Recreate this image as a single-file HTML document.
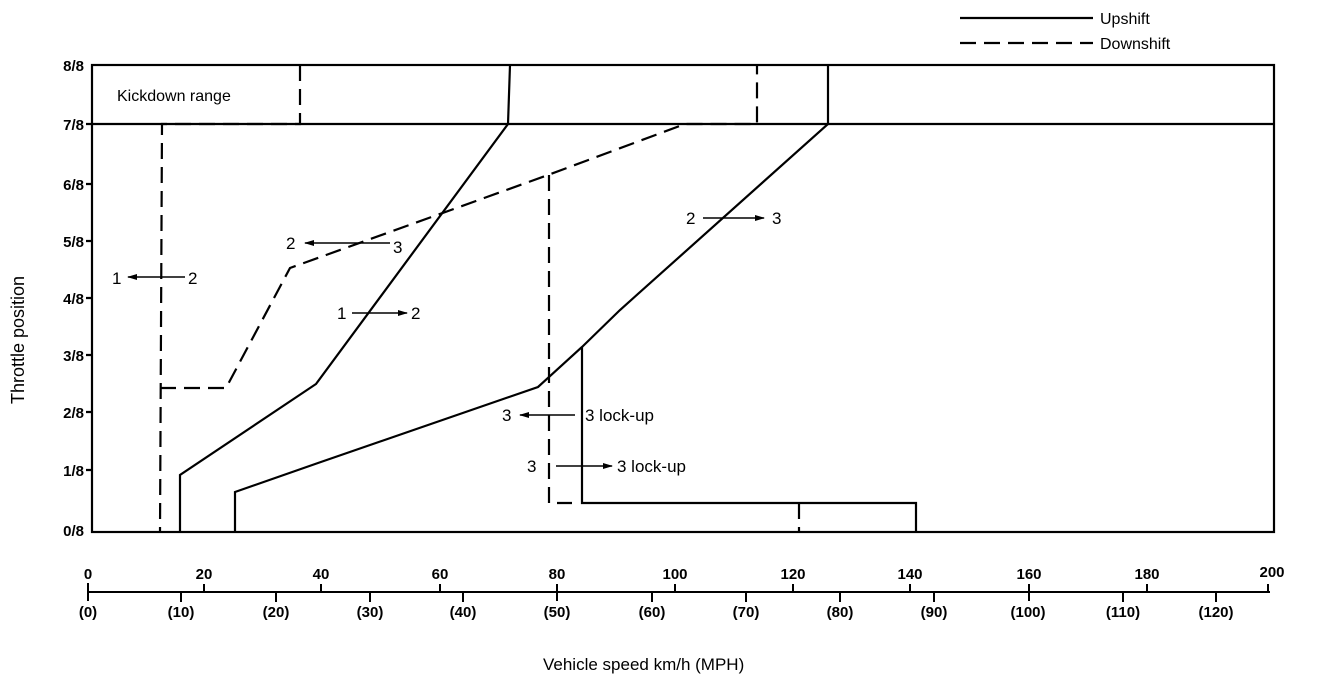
<!DOCTYPE html>
<html><head><meta charset="utf-8"><style>
html,body{margin:0;padding:0;background:#fff;}
svg{display:block;font-family:"Liberation Sans",sans-serif;}
</style></head><body>
<svg width="1328" height="684" viewBox="0 0 1328 684">
<defs><marker id="ah" markerWidth="10" markerHeight="8" refX="9" refY="4" orient="auto" markerUnits="userSpaceOnUse"><path d="M0,1 L10,4 L0,7 z" fill="#000"/></marker></defs>
<g stroke="#000" fill="none" stroke-width="2.2">
<rect x="92" y="65" width="1182" height="467"/>
<line x1="92" y1="124" x2="1274" y2="124"/>
<!-- y ticks -->
<path d="M86 124H92M86 184H92M86 241H92M86 298H92M86 355H92M86 412H92M86 470H92"/>
<!-- solid 1->2 -->
<polyline points="180,532 180,475 316,384 508,124 510,65"/>
<!-- solid 2->3 -->
<polyline points="235,532 235,492 318,463 538,387 582,347 620,310 828,124 828,65"/>
<polyline points="582,347 582,503 916,503 916,532"/>
</g>
<g stroke="#000" fill="none" stroke-width="2.2" stroke-dasharray="16,8">
<polyline points="300,65 300,124 162,124 160,532"/>
<polyline points="160,388 226,388 290,268 548,175 685,124 757,124 757,65"/>
<polyline points="549,175 549,503 572,503"/>
<line x1="799" y1="503" x2="799" y2="532"/>
<line x1="960" y1="43" x2="1093" y2="43"/>
</g>
<line x1="960" y1="18" x2="1093" y2="18" stroke="#000" stroke-width="2.2"/>
<g font-size="16" fill="#000">
<text x="1100" y="24">Upshift</text>
<text x="1100" y="49">Downshift</text>
<text x="117" y="101">Kickdown range</text>
</g>
<g font-size="15" font-weight="bold" text-anchor="end">
<text x="84" y="71">8/8</text><text x="84" y="130">7/8</text><text x="84" y="190">6/8</text>
<text x="84" y="247">5/8</text><text x="84" y="304">4/8</text><text x="84" y="361">3/8</text>
<text x="84" y="418">2/8</text><text x="84" y="476">1/8</text><text x="84" y="536">0/8</text>
</g>
<text transform="translate(24,340) rotate(-90)" text-anchor="middle" font-size="18">Throttle position</text>
<!-- annotations -->
<g font-size="16" stroke="#000" stroke-width="1.5">
<line x1="185" y1="277" x2="128" y2="277" marker-end="url(#ah)"/>
<line x1="390" y1="243" x2="305" y2="243" marker-end="url(#ah)"/>
<line x1="352" y1="313" x2="407" y2="313" marker-end="url(#ah)"/>
<line x1="703" y1="218" x2="764" y2="218" marker-end="url(#ah)"/>
<line x1="575" y1="415" x2="520" y2="415" marker-end="url(#ah)"/>
<line x1="556" y1="466" x2="612" y2="466" marker-end="url(#ah)"/>
</g>
<g font-size="17" fill="#000">
<text x="112" y="284">1</text><text x="188" y="284">2</text>
<text x="286" y="249">2</text><text x="393" y="253">3</text>
<text x="337" y="319">1</text><text x="411" y="319">2</text>
<text x="686" y="224">2</text><text x="772" y="224">3</text>
<text x="502" y="421">3</text><text x="585" y="421">3 lock-up</text>
<text x="527" y="472">3</text><text x="617" y="472">3 lock-up</text>
</g>
<!-- x axis -->
<g stroke="#000" stroke-width="2">
<line x1="88" y1="592" x2="1270" y2="592"/>
<path d="M88 583V601M204 584V592M321 584V592M440 584V592M557 584V601M675 584V592M793 584V592M910 584V592M1029 584V601M1147 584V592M1268 584V592"/>
<path d="M181 592V602M276 592V602M370 592V602M463 592V602M652 592V602M746 592V602M840 592V602M934 592V602M1123 592V602M1216 592V602"/>
</g>
<g font-size="15" font-weight="bold" text-anchor="middle">
<text x="88" y="579">0</text><text x="204" y="579">20</text><text x="321" y="579">40</text>
<text x="440" y="579">60</text><text x="557" y="579">80</text><text x="675" y="579">100</text>
<text x="793" y="579">120</text><text x="910" y="579">140</text><text x="1029" y="579">160</text>
<text x="1147" y="579">180</text><text x="1272" y="577">200</text>
<text x="88" y="617">(0)</text><text x="181" y="617">(10)</text><text x="276" y="617">(20)</text>
<text x="370" y="617">(30)</text><text x="463" y="617">(40)</text><text x="557" y="617">(50)</text>
<text x="652" y="617">(60)</text><text x="746" y="617">(70)</text><text x="840" y="617">(80)</text>
<text x="934" y="617">(90)</text><text x="1028" y="617">(100)</text><text x="1123" y="617">(110)</text>
<text x="1216" y="617">(120)</text>
</g>
<text x="543" y="670" font-size="17">Vehicle speed km/h (MPH)</text>
</svg>
</body></html>
